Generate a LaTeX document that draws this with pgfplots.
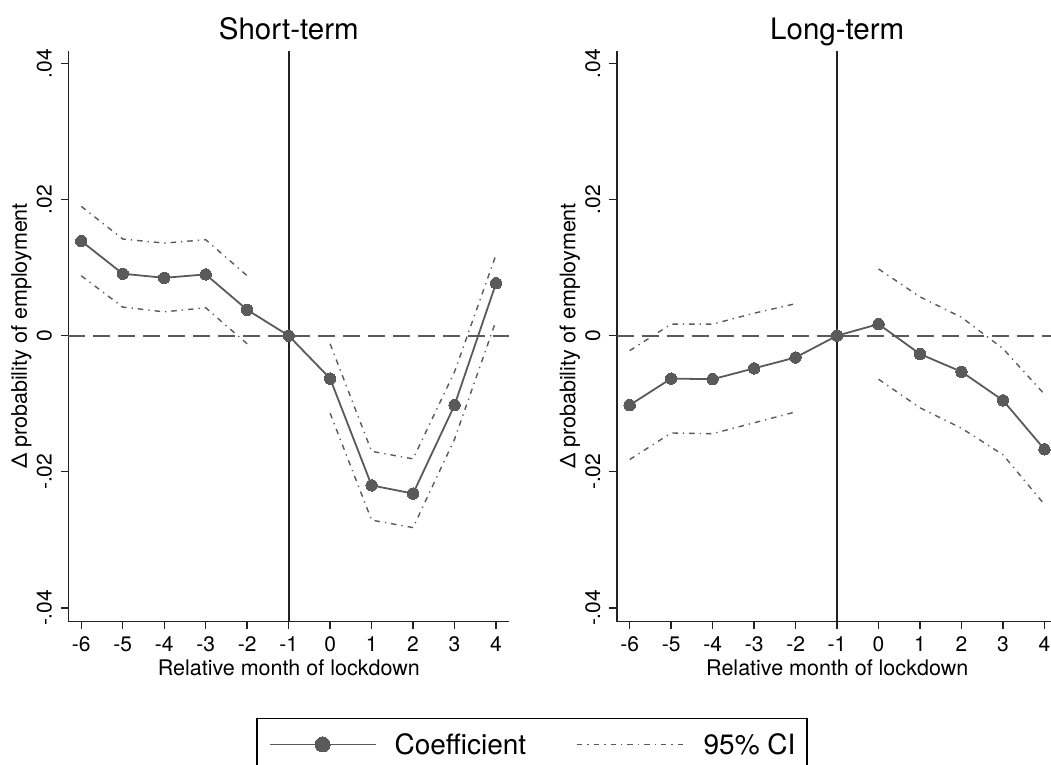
\documentclass[border=0pt]{standalone}
\usepackage{pgfplots}
\pgfplotsset{compat=1.18}
\usepackage{pgfplotstable}
\usepackage{fontspec}
\setmainfont{TeX Gyre Heros}
\definecolor{cg}{RGB}{90,90,90}
\definecolor{ax}{RGB}{35,35,35}

\pgfplotstableread{
x y
-6 0.0139
-5 0.0091
-4 0.0085
-3 0.0090
-2 0.0038
-1 0
0 -0.0063
1 -0.0220
2 -0.0232
3 -0.0102
4 0.0077
}\coefL
\pgfplotstableread{
x lo hi
-6 0.0088 0.0190
-5 0.0042 0.0142
-4 0.0035 0.0136
-3 0.0041 0.0141
-2 -0.0012 0.0088
}\ciLpre
\pgfplotstableread{
x lo hi
0 -0.0114 -0.0012
1 -0.0271 -0.0170
2 -0.0282 -0.0181
3 -0.0152 -0.0053
4 0.0022 0.0119
}\ciLpost
\pgfplotstableread{
x y
-6 -0.0102
-5 -0.0063
-4 -0.0064
-3 -0.0048
-2 -0.0032
-1 0
0 0.0017
1 -0.0027
2 -0.0053
3 -0.0095
4 -0.0167
}\coefR
\pgfplotstableread{
x lo hi
-6 -0.0182 -0.0022
-5 -0.0143 0.0017
-4 -0.0144 0.0017
-3 -0.0128 0.0033
-2 -0.0112 0.0047
}\ciRpre
\pgfplotstableread{
x lo hi
0 -0.0064 0.0098
1 -0.0106 0.0057
2 -0.0136 0.0027
3 -0.0175 -0.0019
4 -0.0248 -0.0086
}\ciRpost

\pgfplotsset{
  panel/.style={
    scale only axis, width=441pt, height=571pt,
    xmin=-6.313, xmax=4.32, ymin=-0.0420, ymax=0.0419,
    axis x line*=bottom, axis y line*=left,
    axis line style={ax, line width=1.6pt},
    tick style={ax, line width=1.4pt},
    major tick length=7.5pt, tick align=outside,
    scaled y ticks=false, scaled x ticks=false,
    xtick={-6,-5,-4,-3,-2,-1,0,1,2,3,4},
    xticklabels={-6,-5,-4,-3,-2,-1,0,1,2,3,4},
    ytick={-0.04,-0.02,0,0.02,0.04},
    yticklabels={-.04,-.02,0,.02,.04},
    /pgf/number format/assume math mode=true,
    xticklabel style={font=\fontsize{21}{24}\selectfont, inner sep=0pt, anchor=base, yshift=-22.7pt},
    yticklabel style={font=\fontsize{21}{24}\selectfont, inner sep=0pt, xshift=-9.1pt, rotate=90, anchor=base},
    every axis x label/.style={at={(rel axis cs:0.5,-0.0937)}, anchor=base, font=\fontsize{21.5}{24}\selectfont},
    every axis y label/.style={at={(rel axis cs:-0.0937,0.5)}, rotate=90, anchor=base, font=\fontsize{21.5}{24}\selectfont},
    every axis title/.style={at={(rel axis cs:0.5,1.0193)}, anchor=base, font=\fontsize{29.5}{32}\selectfont},
    xlabel={Relative month of lockdown},
    ylabel={Δ probability of employment},
    clip=false,
  },
  coefstyle/.style={cg, line width=1.8pt, mark=*, mark size=5.7pt, mark options={solid, fill=cg, draw=cg, line width=0pt}},
  cistyle/.style={cg, line width=1.4pt, dash pattern=on 5.5pt off 5pt on 1.3pt off 5pt},
  zerostyle/.style={cg, line width=1.8pt, dash pattern=on 17pt off 8pt, forget plot},
  vstyle/.style={ax, line width=1.7pt, forget plot},
  coeflegend/.style={legend image code/.code={\draw[mark repeat=2, mark phase=2, ##1, mark size=7.5pt] plot coordinates {(0pt,0pt) (53pt,0pt) (106pt,0pt)};}},
  cilegend/.style={legend image code/.code={\draw[##1] (0pt,0pt) -- (108pt,0pt);}},
}

\begin{document}
\begin{tikzpicture}
\useasboundingbox (0pt,0pt) rectangle (1051pt,-764pt);
\begin{axis}[panel, at={(68.3pt,-621.5pt)}, anchor=south west, title={Short-term},
  legend style={at={(rel axis cs:0.4263,-0.1681)}, anchor=north west,
    draw=black, line width=1.5pt, font=\fontsize{28}{32}\selectfont,
    inner xsep=11.7pt, inner ysep=15pt,
    nodes={inner sep=0pt},
    /tikz/every even column/.append style={column sep=50pt},
    /tikz/every odd column/.append style={column sep=18pt}},
  legend columns=2, legend cell align=left]
\addplot[zerostyle] coordinates {(-6.313,0) (4.32,0)};
\addplot[vstyle] coordinates {(-1,-0.0420) (-1,0.0419)};
\addplot[coefstyle, coeflegend] table[x=x,y=y] {\coefL};
\addlegendentry{Coefficient}
\addplot[cistyle, cilegend] table[x=x,y=hi] {\ciLpre};
\addlegendentry{95\% CI}
\addplot[cistyle, forget plot] table[x=x,y=lo] {\ciLpre};
\addplot[cistyle, forget plot] table[x=x,y=hi] {\ciLpost};
\addplot[cistyle, forget plot] table[x=x,y=lo] {\ciLpost};
\end{axis}
\begin{axis}[panel, at={(616.7pt,-621.5pt)}, anchor=south west, title={Long-term}]
\addplot[zerostyle] coordinates {(-6.313,0) (4.32,0)};
\addplot[vstyle] coordinates {(-1,-0.0420) (-1,0.0419)};
\addplot[cistyle] table[x=x,y=hi] {\ciRpre};
\addplot[cistyle] table[x=x,y=lo] {\ciRpre};
\addplot[cistyle] table[x=x,y=hi] {\ciRpost};
\addplot[cistyle] table[x=x,y=lo] {\ciRpost};
\addplot[coefstyle] table[x=x,y=y] {\coefR};
\end{axis}
\end{tikzpicture}
\end{document}
